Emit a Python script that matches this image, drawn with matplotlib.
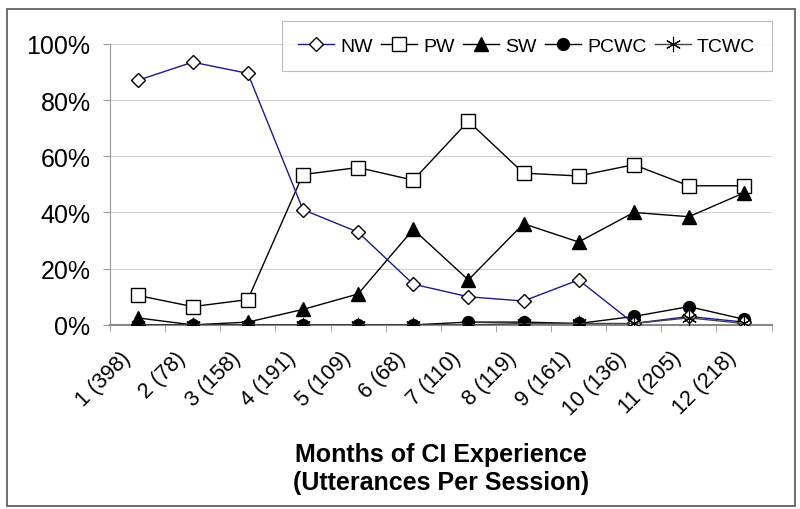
import numpy as np
import matplotlib.pyplot as plt
import matplotlib.transforms as mtransforms
from matplotlib.patches import Rectangle

plt.rcParams['font.family'] = ['Liberation Sans', 'DejaVu Sans']

# x categories: month (utterances per session)
months = ["1 (398)", "2 (78)", "3 (158)", "4 (191)", "5 (109)", "6 (68)",
          "7 (110)", "8 (119)", "9 (161)", "10 (136)", "11 (205)", "12 (218)"]

# percentages
nw = [87, 93.5, 89.5, 41, 33, 14.5, 10, 8.5, 16, 0.5, 3, 1]
pw = [10.5, 6.5, 9, 53.5, 56, 51.5, 72.5, 54, 53, 57, 49.5, 49.5]
sw = [2.5, 0, 1, 5.5, 11, 34, 16, 36, 29.5, 40, 38.5, 47]
pcwc = [0, 0, 0, 0, 0, 0, 1, 1, 0.5, 3, 6.5, 2]
tcwc = [0, 0, 0, 0, 0, 0, 0, 0.5, 0.5, 0.5, 2.5, 0.5]

fig = plt.figure(figsize=(8, 5.1), dpi=100)
ax = fig.add_axes([0.1375, 0.361, 0.827, 0.551])

x = np.arange(len(months))
ax.plot(x, nw, color="#1a1a8c", lw=1, marker="D", ms=7.5, mfc="white", mec="black", mew=1, label="NW", zorder=5)
ax.plot(x, pw, color="black", lw=1, marker="s", ms=9.5, mfc="white", mec="black", mew=1, label="PW", zorder=4)
ax.plot(x, sw, color="black", lw=1, marker="^", ms=9.5, mfc="black", mec="black", label="SW", zorder=4)
ax.plot(x, pcwc, color="black", lw=1, marker="o", ms=8.5, mfc="black", mec="black", label="PCWC", zorder=3)
ax.plot(x, tcwc, color="#444444", lw=1, marker=(6, 2, 0), ms=11, mec="black", mew=0.8, label="TCWC", zorder=6)

ax.set_xlim(-0.5, 11.5)
ax.set_ylim(0, 100)
ax.set_yticks([0, 20, 40, 60, 80, 100])
ax.set_yticklabels(["0%", "20%", "40%", "60%", "80%", "100%"], fontsize=18)
ax.yaxis.grid(True, color="#d0d0d0", lw=0.8)
ax.set_axisbelow(True)

ax.set_xticks(x)
ax.set_xticklabels(months, rotation=45, ha="right", rotation_mode="anchor", fontsize=15.5)
ax.tick_params(axis="x", length=0, pad=16)
# shift rotated labels a bit to the left, like the original
shift = mtransforms.ScaledTranslation(-18 / 100, 0, fig.dpi_scale_trans)
for lab in ax.get_xticklabels():
    lab.set_transform(lab.get_transform() + shift)
ax.set_xticks(np.arange(-0.5, 12, 1), minor=True)
ax.tick_params(axis="x", which="minor", length=5, color="#999999")
ax.tick_params(axis="y", length=5, color="#999999", pad=9)

for s in ["top", "right"]:
    ax.spines[s].set_visible(False)
ax.spines["left"].set_color("#999999")
ax.spines["bottom"].set_color("#888888")
ax.spines["bottom"].set_linewidth(1.5)

ax.set_xlabel("Months of CI Experience\n(Utterances Per Session)", fontsize=18,
              fontweight="bold", labelpad=17)

leg = ax.legend(loc="upper right", ncol=5, fontsize=14, frameon=True, fancybox=False,
                edgecolor="#aaaaaa", handlelength=1.85, handletextpad=0.3, columnspacing=0.45,
                bbox_to_anchor=(1.0, 1.083), borderpad=0.85, borderaxespad=0)
leg.get_frame().set_linewidth(0.8)

fig.patches.append(Rectangle((0.009, 0.006), 0.985, 0.975, transform=fig.transFigure,
                             fill=False, edgecolor="#555555", lw=1.2))

plt.savefig("out.png")
